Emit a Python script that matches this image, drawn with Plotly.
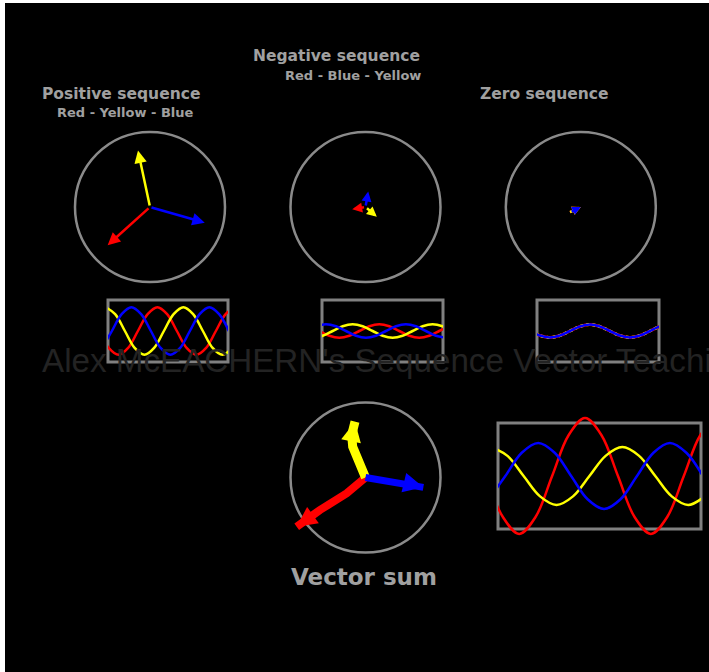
import plotly.graph_objects as go
import math

W, H = 709, 672

# ---------------- data ----------------
phase_names = ["Red", "Yellow", "Blue"]
phase_colors = {"Red": "#ff0000", "Yellow": "#ffff00", "Blue": "#0000ff"}

# phasor magnitudes (fraction of circle radius) and angles (deg)
pos_mag = {"Red": 0.76, "Yellow": 0.77, "Blue": 0.76}
pos_ang = {"Red": 222, "Yellow": 102, "Blue": -16}
neg_mag = {"Red": 0.18, "Yellow": 0.20, "Blue": 0.21}
neg_ang = {"Red": 190, "Yellow": -41, "Blue": 80}
zero_mag = {"Red": 0.18, "Yellow": 0.18, "Blue": 0.16}
zero_ang = {"Red": 205, "Yellow": 205, "Blue": 207}

# vector-sum phasor paths (smeared traces), circle-radius units
sum_x = {"Red": [0, -0.251, -0.607, -0.917],
         "Yellow": [0, -0.073, -0.171, -0.184, -0.167, -0.14],
         "Blue": [0, 0.193, 0.549, 0.771]}
sum_y = {"Red": [0, -0.211, -0.433, -0.656],
         "Yellow": [0, 0.167, 0.411, 0.567, 0.611, 0.744],
         "Blue": [0, -0.033, -0.077, -0.131]}

# waveforms: electrical degrees vs instantaneous value
pos_wx = {"Yellow": [-12, 33, 78, 123, 168, 213, 258, 303, 348, 393, 438, 483, 528, 573],
          "Blue": [-27, 18, 63, 108, 153, 198, 243, 288, 333, 378, 423, 468, 513, 558],
          "Red": [-42, 3, 48, 93, 138, 183, 228, 273, 318, 363, 408, 453, 498, 543, 588]}
pos_wy = {"Yellow": [1, .71, 0, -.71, -1, -.71, 0, .71, 1, .71, 0, -.71, -1, -.71],
          "Blue": [-.71, 0, .71, 1, .71, 0, -.71, -1, -.71, 0, .71, 1, .71, 0],
          "Red": [0, -.71, -1, -.71, 0, .71, 1, .71, 0, -.71, -1, -.71, 0, .71, 1]}

neg_wx = {"Blue": [-27, 18, 63, 108, 153, 198, 243, 288, 333, 378, 423, 468, 513, 558],
          "Yellow": [-42, 3, 48, 93, 138, 183, 228, 273, 318, 363, 408, 453, 498, 543, 588],
          "Red": [-12, 33, 78, 123, 168, 213, 258, 303, 348, 393, 438, 483, 528, 573]}
neg_wy = {"Blue": [.2, .28, .2, 0, -.2, -.28, -.2, 0, .2, .28, .2, 0, -.2, -.28],
          "Yellow": [-.28, -.2, 0, .2, .28, .2, 0, -.2, -.28, -.2, 0, .2, .28, .2, 0],
          "Red": [0, -.2, -.28, -.2, 0, .2, .28, .2, 0, -.2, -.28, -.2, 0, .2]}

zero_wx = [-32, 13, 58, 103, 148, 193, 238, 283, 328, 373, 418, 463, 508, 553, 598]
zero_wy = [0, -.19, -.27, -.19, 0, .19, .27, .19, 0, -.19, -.27, -.19, 0, .19, .27]

sum_wx = {"Red": [-32, 13, 58, 103, 148, 193, 238, 283, 328, 373, 418, 463, 508, 553, 598],
          "Yellow": [-20, 25, 70, 115, 160, 205, 250, 295, 340, 385, 430, 475, 520, 565],
          "Blue": [-25, 20, 65, 110, 155, 200, 245, 290, 335, 380, 425, 470, 515, 560]}
sum_wy = {"Red": [0, -1.0, -1.42, -1.0, 0, 1.0, 1.42, 1.0, 0, -1.0, -1.42, -1.0, 0, 1.0, 1.42],
          "Yellow": [.71, .5, 0, -.5, -.71, -.5, 0, .5, .71, .5, 0, -.5, -.71, -.5],
          "Blue": [-.57, 0, .57, .81, .57, 0, -.57, -.81, -.57, 0, .57, .81, .57, 0]}

# ---------------- layout geometry (pixels) ----------------
R_PX = 75.0          # circle radius in px
AX_R = 1.45          # half-range of phasor axes (circle radius = 1)
circle_centers = {1: (150, 207), 2: (365.5, 207), 3: (580.8, 207), 4: (365.5, 477.5)}
wave_boxes = {5: (108, 300, 228, 362, 554, 1.3),
              6: (322, 300, 443, 362, 545, 1.3),
              7: (537, 300, 659, 362, 549, 1.3),
              8: (498, 423, 701, 529, 555, 1.3)}
SUM_WAVE_YDOM = (403, 549)

def px(x):
    return x / W

def py(y):
    return 1 - y / H

layout = dict(width=W, height=H, margin=dict(l=0, r=0, t=0, b=0, pad=0),
              paper_bgcolor="#ffffff", plot_bgcolor="rgba(0,0,0,0)",
              showlegend=False, shapes=[], annotations=[])

def axkey(i, a):
    return a + "axis" + ("" if i == 1 else str(i))

def ref(i, a):
    return a + ("" if i == 1 else str(i))

for i, (cx, cy) in circle_centers.items():
    half = AX_R * R_PX
    layout[axkey(i, "x")] = dict(domain=[px(cx - half), px(cx + half)], range=[-AX_R, AX_R],
                                 visible=False, anchor=ref(i, "y"), fixedrange=True)
    layout[axkey(i, "y")] = dict(domain=[py(cy + half), py(cy - half)], range=[-AX_R, AX_R],
                                 visible=False, anchor=ref(i, "x"), fixedrange=True)

for i, (x0, y0, x1, y1, xr, yr) in wave_boxes.items():
    layout[axkey(i, "x")] = dict(domain=[px(x0), px(x1)], range=[0, xr],
                                 visible=False, anchor=ref(i, "y"), fixedrange=True)
    if i == 8:
        yd0, yd1 = SUM_WAVE_YDOM
        unit = ((y1 - y0) / 2) / yr
        half = (yd1 - yd0) / 2 / unit
        layout[axkey(i, "y")] = dict(domain=[py(yd1), py(yd0)], range=[-half, half],
                                     visible=False, anchor=ref(i, "x"), fixedrange=True)
    else:
        layout[axkey(i, "y")] = dict(domain=[py(y1), py(y0)], range=[-yr, yr],
                                     visible=False, anchor=ref(i, "x"), fixedrange=True)

# black panel
layout["shapes"].append(dict(type="rect", xref="paper", yref="paper", x0=px(5), x1=px(W + 5),
                             y0=py(H + 5), y1=py(3), fillcolor="#000000", line=dict(width=0),
                             layer="below"))
# circles
for i in circle_centers:
    layout["shapes"].append(dict(type="circle", xref=ref(i, "x"), yref=ref(i, "y"),
                                 x0=-1, x1=1, y0=-1, y1=1,
                                 line=dict(color="#8a8a8a", width=2.5), layer="below"))
# waveform boxes
for i, (x0, y0, x1, y1, xr, yr) in wave_boxes.items():
    layout["shapes"].append(dict(type="rect", xref="paper", yref="paper",
                                 x0=px(x0), x1=px(x1), y0=py(y1), y1=py(y0),
                                 line=dict(color="#808080", width=3), layer="below"))

traces = []

# phasor arrows
def add_phasors(i, mag, ang, width, size):
    for name in phase_names:
        m, a = mag[name], math.radians(ang[name])
        layout["annotations"].append(dict(
            x=m * math.cos(a), y=m * math.sin(a), ax=0, ay=0,
            xref=ref(i, "x"), yref=ref(i, "y"), axref=ref(i, "x"), ayref=ref(i, "y"),
            text="", showarrow=True, arrowhead=2, arrowsize=size, arrowwidth=width,
            arrowcolor=phase_colors[name], standoff=0, startstandoff=0))

add_phasors(1, pos_mag, pos_ang, 2.5, 1.0)
add_phasors(2, neg_mag, neg_ang, 2.5, 0.8)

# zero sequence: small co-directional vectors pointing into the centre
for name in phase_names:
    m, a = zero_mag[name], math.radians(zero_ang[name])
    layout["annotations"].append(dict(
        x=0, y=0, ax=m * math.cos(a), ay=m * math.sin(a),
        xref="x3", yref="y3", axref="x3", ayref="y3",
        text="", showarrow=True, arrowhead=2, arrowsize=0.7, arrowwidth=2.5,
        arrowcolor=phase_colors[name], standoff=0, startstandoff=0))

# vector sum (thick smeared vectors)
sum_width = {"Red": 8, "Yellow": 9, "Blue": 7}
for name in phase_names:
    traces.append(go.Scatter(x=sum_x[name], y=sum_y[name], xaxis="x4", yaxis="y4",
                             mode="lines", hoverinfo="skip",
                             line=dict(color=phase_colors[name], width=sum_width[name])))
    xs, ys = sum_x[name], sum_y[name]
    layout["annotations"].append(dict(
        x=xs[-1], y=ys[-1], ax=xs[-2], ay=ys[-2],
        xref="x4", yref="y4", axref="x4", ayref="y4",
        text="", showarrow=True, arrowhead=2, arrowsize=1.0, arrowwidth=4,
        arrowcolor=phase_colors[name], standoff=0, startstandoff=0))

# waveforms
def add_wave(i, xs, ys, color, width=2.5, dash="solid"):
    traces.append(go.Scatter(x=xs, y=ys, xaxis=ref(i, "x"), yaxis=ref(i, "y"),
                             mode="lines", hoverinfo="skip",
                             line=dict(color=color, width=width, shape="spline",
                                       smoothing=1.0, dash=dash)))

for name in ["Red", "Yellow", "Blue"]:
    add_wave(5, pos_wx[name], pos_wy[name], phase_colors[name])
for name in ["Red", "Yellow", "Blue"]:
    add_wave(6, neg_wx[name], neg_wy[name], phase_colors[name])
add_wave(7, zero_wx, zero_wy, phase_colors["Red"], 3)
add_wave(7, zero_wx, zero_wy, phase_colors["Yellow"], 3, "dot")
add_wave(7, zero_wx, zero_wy, phase_colors["Blue"], 2.5)
for name in ["Red", "Yellow", "Blue"]:
    add_wave(8, sum_wx[name], sum_wy[name], phase_colors[name])

# text
TXT = "#a0a0a0"
def label(text, x, y, size, color=TXT, family="DejaVu Sans", weight="bold", xanchor="center"):
    layout["annotations"].append(dict(
        text=text, x=px(x), y=py(y), xref="paper", yref="paper", showarrow=False,
        xanchor=xanchor, yanchor="middle",
        font=dict(family=family, size=size, color=color, weight=weight)))

label("Alex McEACHERN's Sequence Vector Teaching Toy", 40, 360, 33.2, color="#232323",
      family="Liberation Sans, Arial", weight="normal", xanchor="left")
label("Positive sequence", 120.5, 94, 15.5)
label("Red - Yellow - Blue", 125.5, 113, 13)
label("Negative sequence", 336.5, 56, 15.5)
label("Red - Blue - Yellow", 353, 75, 13)
label("Zero sequence", 544, 94, 15.5)
label("Vector sum", 364, 577, 23)

fig = go.Figure(data=traces, layout=layout)
fig.write_html("out.html", config={"displayModeBar": False},
               post_script="document.body.style.margin='0';document.body.style.overflow='hidden';")
